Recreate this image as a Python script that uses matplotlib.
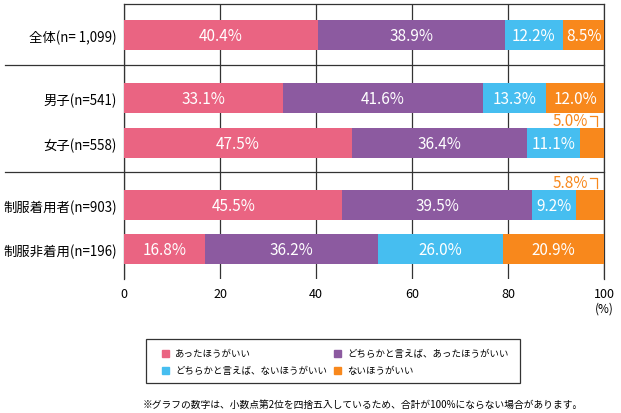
import numpy as np
import matplotlib.pyplot as plt
from matplotlib.lines import Line2D
from matplotlib.patches import Rectangle

plt.rcParams['font.family'] = ['Noto Sans CJK JP', 'DejaVu Sans']

groups = ['全体(n= 1,099)', '男子(n=541)', '女子(n=558)', '制服着用者(n=903)', '制服非着用(n=196)']
series = ['あったほうがいい', 'どちらかと言えば、あったほうがいい',
          'どちらかと言えば、ないほうがいい', 'ないほうがいい']
v_yes = [40.4, 33.1, 47.5, 45.5, 16.8]
v_ratheryes = [38.9, 41.6, 36.4, 39.5, 36.2]
v_ratherno = [12.2, 13.3, 11.1, 9.2, 26.0]
v_no = [8.5, 12.0, 5.0, 5.8, 20.9]
colors = ['#EA6482', '#8C5AA0', '#46BEF0', '#F8881C']
note = '※グラフの数字は、小数点第2位を四捨五入しているため、合計が100%にならない場合があります。'

W, H = 621, 414
# layout (pixel-like units on the y axis)
ypos = np.array([36, 99, 144, 206, 250])
bar_h = 30

fig = plt.figure(figsize=(W/100, H/100), dpi=100)
ax = fig.add_axes([124/W, 1-280/H, 480/W, 275/H])
ax.set_xlim(0, 100)
ax.set_ylim(280, 5)

vals = [v_yes, v_ratheryes, v_ratherno, v_no]
left = np.zeros(len(groups))
for k, v in enumerate(vals):
    v = np.array(v)
    ax.barh(ypos, v, left=left, height=bar_h, color=colors[k], zorder=3)
    for i in range(len(groups)):
        if v[i] >= 8:
            ax.text(left[i] + v[i]/2, ypos[i], f'{v[i]:.1f}%', ha='center', va='center',
                    color='white', fontsize=11, zorder=4)
    left += v

# small orange labels with bracket
for i in [2, 3]:
    yt = ypos[i] - bar_h/2 - 8
    ax.text(96.7, yt, f'{v_no[i]:.1f}%', ha='right', va='center', color=colors[3],
            fontsize=11, zorder=4)
    ax.plot([97.0, 98.5, 98.5], [yt - 4, yt - 4, yt + 6],
            color=colors[3], lw=0.9, clip_on=False, zorder=4)

ax.set_xticks([0, 20, 40, 60, 80, 100])
ax.tick_params(axis='x', length=0, labelsize=9, pad=6)
ax.xaxis.grid(True, color='#333333', lw=0.9, zorder=0)
ax.set_axisbelow(True)
ax.set_yticks(ypos)
ax.set_yticklabels(groups, fontsize=9.6)
ax.tick_params(axis='y', length=0, pad=5)
ax.spines['bottom'].set_visible(False)
for s in ['left', 'right', 'top']:
    ax.spines[s].set_color('#333333')
    ax.spines[s].set_linewidth(0.9)

# group separators across the label column
for yp in [66, 173]:
    fig.add_artist(Line2D([5/W, 604/W], [1-yp/H, 1-yp/H], color='#333333', lw=0.9))

fig.text(604/W, 1-309/H, '(%)', ha='center', va='center', fontsize=8.5)

# legend box
fig.add_artist(Rectangle((146/W, 1-384/H), 374/W, 44/H, fill=False,
                         edgecolor='#333333', lw=0.9))
spots = [(165, 354), (337, 354), (165, 371), (337, 371)]
for (px, py), c, lab in zip(spots, colors, series):
    fig.add_artist(Rectangle(((px-3.5)/W, 1-(py+3.5)/H), 7/W, 7/H, color=c))
    fig.text((px+10)/W, 1-py/H, lab, ha='left', va='center', fontsize=6.8)

fig.text(143/W, 1-405/H, note, ha='left', va='center', fontsize=7)

fig.savefig('out.png', dpi=100)
